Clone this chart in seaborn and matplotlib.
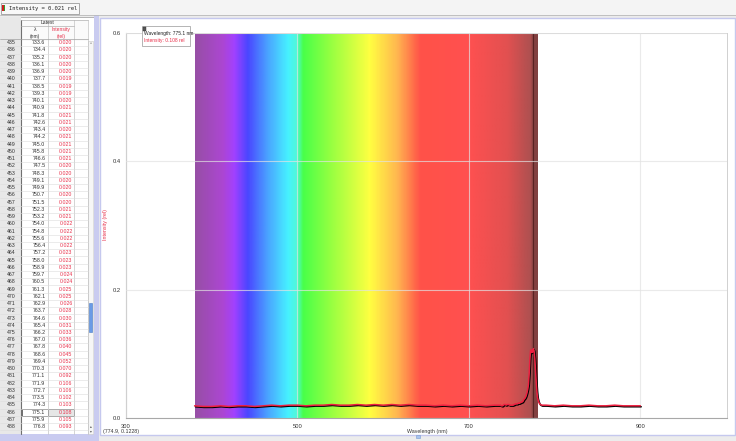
import matplotlib
matplotlib.use("Agg")
import matplotlib.pyplot as plt
import matplotlib.patheffects as pe
from matplotlib.colors import LinearSegmentedColormap, Normalize
from matplotlib.patches import Rectangle
import numpy as np
import pandas as pd
import seaborn as sns

# ---- data ----
# table rows (index, wavelength nm, intensity rel)
row_idx = list(range(435, 489))
tbl_wl = [733.6, 734.4, 735.2, 736.1, 736.9, 737.7, 738.5, 739.3, 740.1, 740.9,
          741.8, 742.6, 743.4, 744.2, 745.0, 745.8, 746.6, 747.5, 748.3, 749.1,
          749.9, 750.7, 751.5, 752.3, 753.2, 754.0, 754.8, 755.6, 756.4, 757.2,
          758.0, 758.9, 759.7, 760.5, 761.3, 762.1, 762.9, 763.7, 764.6, 765.4,
          766.2, 767.0, 767.8, 768.6, 769.4, 770.3, 771.1, 771.9, 772.7, 773.5,
          774.3, 775.1, 775.9, 776.8]
tbl_int = [0.020, 0.020, 0.020, 0.020, 0.020, 0.019, 0.019, 0.019, 0.020, 0.021,
           0.021, 0.021, 0.020, 0.021, 0.021, 0.021, 0.021, 0.020, 0.020, 0.020,
           0.020, 0.020, 0.020, 0.021, 0.021, 0.022, 0.022, 0.022, 0.022, 0.023,
           0.023, 0.023, 0.024, 0.024, 0.025, 0.025, 0.026, 0.028, 0.030, 0.031,
           0.033, 0.036, 0.040, 0.045, 0.052, 0.070, 0.092, 0.106, 0.106, 0.102,
           0.103, 0.108, 0.105, 0.093]
selected_row = 486

# rest of the spectrum (estimated from the graph)
base_wl = [380, 390, 400, 410, 420, 430, 440, 450, 460, 470, 480, 490, 500, 510,
           520, 530, 540, 550, 560, 570, 580, 590, 600, 610, 620, 630, 640, 650,
           660, 670, 680, 690, 700, 710, 720, 730]
base_int = [0.019, 0.018, 0.018, 0.019, 0.018, 0.019, 0.019, 0.018, 0.019, 0.020,
            0.019, 0.020, 0.020, 0.019, 0.020, 0.020, 0.021, 0.020, 0.020, 0.021,
            0.020, 0.021, 0.020, 0.021, 0.020, 0.021, 0.020, 0.020, 0.019, 0.020,
            0.019, 0.020, 0.019, 0.020, 0.019, 0.020]
tail_wl = [777.6, 778.4, 779.2, 780.0, 780.9, 781.7, 782.5, 783.3, 785, 790, 800,
           810, 820, 830, 840, 850, 860, 870, 880, 890, 900]
tail_int = [0.076, 0.057, 0.042, 0.032, 0.027, 0.024, 0.022, 0.021, 0.020, 0.020,
            0.019, 0.020, 0.019, 0.019, 0.020, 0.019, 0.019, 0.020, 0.019, 0.019, 0.019]

spec = pd.DataFrame({"wl": base_wl + tbl_wl + tail_wl,
                     "intensity": base_int + tbl_int + tail_int})

x_major = [300, 500, 700, 900]
x_minor = [400, 600, 800]
y_major = [0.0, 0.2, 0.4, 0.6]
y_minor = [0.1, 0.3, 0.5]

# visible-light band behind the graph
band_stops = [(380, '#8e3f9e'), (412, '#a535cf'), (425, '#9a30ff'), (441, '#3a35ff'),
              (464, '#3a9aff'), (488, '#35f0ff'), (498, '#40f8d8'), (506, '#38ff38'),
              (538, '#8cff30'), (584, '#ffff30'), (616, '#ffb040'), (643, '#ff4238'),
              (700, '#ff4040'), (745, '#e04040'), (773, '#a54040'), (775, '#7a3030'),
              (780, '#763030')]

sns.set_theme(style="white")
plt.rcParams['font.family'] = ['Liberation Sans', 'DejaVu Sans']

W, H = 736, 441
fig = plt.figure(figsize=(W / 100, H / 100), dpi=100, facecolor='#ececec')

# background layer in pixel coordinates
bg = fig.add_axes([0, 0, 1, 1], zorder=0)
bg.set_xlim(0, W)
bg.set_ylim(H, 0)
bg.axis('off')

# top bar
bg.add_patch(Rectangle((0, 0), W, 15, facecolor='#f4f4f4', edgecolor='none'))
bg.plot([0, W], [14.5, 14.5], color='#b8b8b8', lw=0.6)
bg.add_patch(Rectangle((0.5, 3), 78, 11, facecolor='#f8f8f8', edgecolor='#9a9a9a', lw=0.6))
bg.add_patch(Rectangle((2, 5), 1.5, 6, facecolor='#d02020', edgecolor='none'))
bg.add_patch(Rectangle((3.5, 5), 1.5, 6, facecolor='#30a030', edgecolor='none'))
bg.text(9, 8.7, 'Intensity = 0.021 rel', fontsize=4.0, family='DejaVu Sans Mono',
        color='#222222', va='center', ha='left')

# left table panel
bg.add_patch(Rectangle((0, 17), 94, 417, facecolor='white', edgecolor='#a8a8a8', lw=0.6))
bg.add_patch(Rectangle((94, 15), 5, H - 15, facecolor='#c9cbf0', edgecolor='none'))
bg.add_patch(Rectangle((0, 434), 99, H - 434, facecolor='#c9cbf0', edgecolor='none'))

# chart panel
bg.add_patch(Rectangle((99.5, 17.5), 635, 417.5, facecolor='white', edgecolor='#c5c8ee', lw=1.0))

# table
row_h = 7.245
y0 = 42.7
n = len(row_idx)
bg.add_patch(Rectangle((0, 17), 21, 417, facecolor='#e8e8e8', edgecolor='none'))
bg.add_patch(Rectangle((21, 20), 67, 20.5, facecolor='#fafafa', edgecolor='none'))
for xv, c, lw in [(21, '#707070', 0.8), (48, '#c4c4c4', 0.5), (74, '#c4c4c4', 0.5),
                  (88, '#c4c4c4', 0.5)]:
    bg.plot([xv, xv], [20, 434], color=c, lw=lw)
bg.plot([21, 88], [20, 20], color='#b0b0b0', lw=0.5)
bg.plot([21, 74], [25.5, 25.5], color='#b0b0b0', lw=0.5)
bg.plot([0, 88], [y0 - row_h / 2, y0 - row_h / 2], color='#a0a0a0', lw=0.5)
for i in range(n):
    yb = y0 + i * row_h + row_h / 2
    bg.plot([0, 88], [yb, yb], color='#dcdcdc', lw=0.4)

hs = dict(fontsize=3.6, ha='center', va='center')
bg.text(47.5, 22.6, 'Latest', color='#333333', **hs)
bg.text(35, 29.6, 'λ', color='#333333', **hs)
bg.text(35, 36.4, '(nm)', color='#333333', **hs)
bg.text(61, 29.6, 'Intensity', color='#e8304a', **hs)
bg.text(61, 36.4, '(rel)', color='#e8304a', **hs)

for i, (r, lv, iv) in enumerate(zip(row_idx, tbl_wl, tbl_int)):
    yc = y0 + i * row_h
    if r == selected_row:
        bg.add_patch(Rectangle((48, yc - row_h / 2), 26, row_h, facecolor='#e6e6e6',
                               edgecolor='#555555', lw=0.6))
        bg.add_patch(Rectangle((21.5, yc - row_h / 2), 26.5, row_h, facecolor='none',
                               edgecolor='#555555', lw=0.6))
    bg.text(11, yc, str(r), fontsize=3.8, color='#333333', ha='center', va='center')
    bg.text(45.5, yc, f'{lv:.1f}', fontsize=3.8, color='#333333', ha='right', va='center')
    bg.text(72.5, yc, f'{iv:.3f}', fontsize=3.8, color='#e8304a', ha='right', va='center')

# scrollbar
bg.add_patch(Rectangle((88.3, 40.5), 4.7, 393, facecolor='#f6f6f6', edgecolor='#c8c8c8', lw=0.4))
bg.text(90.7, 44.5, '^', fontsize=3.2, color='#555555', ha='center', va='center')
bg.add_patch(Rectangle((89.3, 303), 3, 29, facecolor='#6a9be6', edgecolor='#4a7bc6', lw=0.4))
bg.text(90.7, 426, '▴', fontsize=2.6, color='#555555', ha='center', va='center')
bg.text(90.7, 431, '▾', fontsize=2.6, color='#555555', ha='center', va='center')

# ---- the graph ----
ax = fig.add_axes([126 / W, 1 - 418 / H, (727 - 126) / W, (418 - 33) / H], zorder=2)
ax.set_facecolor('white')
ax.set_xlim(300, 1001)
ax.set_ylim(0, 0.6)

cmap = LinearSegmentedColormap.from_list(
    'visible', [((w - 380) / 400, c) for w, c in band_stops])
grad = np.linspace(380, 780, 800)[None, :]
ax.imshow(grad, cmap=cmap, norm=Normalize(380, 780), extent=[380, 780, 0, 0.6],
          aspect='auto', alpha=0.92, zorder=0, interpolation='bilinear')
ax.axvline(774.9, color='#4a1a1a', lw=0.8, alpha=0.75, zorder=1)

ax.set_xticks(x_major)
ax.set_xticks(x_minor, minor=True)
ax.set_yticks(y_major)
ax.set_yticks(y_minor, minor=True)
ax.set_xticklabels([str(v) for v in x_major])
ax.set_yticklabels([f'{v:.1f}' for v in y_major])
ax.tick_params(which='both', direction='out', length=2.5, width=0.5, color='#888888',
               labelsize=4.2, labelcolor='#333333', pad=1.5)
ax.tick_params(which='minor', length=2)
ax.grid(True, which='major', color='#e2e2e2', lw=0.8, alpha=0.7)
ax.set_axisbelow(False)
for s in ['top', 'right']:
    ax.spines[s].set_color('#d0d0d0')
    ax.spines[s].set_linewidth(0.7)
for s in ['left', 'bottom']:
    ax.spines[s].set_color('#a8a8a8')
    ax.spines[s].set_linewidth(0.8)

sns.lineplot(data=spec, x='wl', y='intensity', ax=ax, color='#ee2040', lw=1.1,
             zorder=5, sort=False,
             path_effects=[pe.SimpleLineShadow(offset=(0.6, -0.7), shadow_color='black',
                                               alpha=1.0, rho=1.0), pe.Normal()])
ax.set_xlabel('')
ax.set_ylabel('')

# ---- foreground annotations in pixel coordinates ----
fg = fig.add_axes([0, 0, 1, 1], zorder=5)
fg.set_xlim(0, W)
fg.set_ylim(H, 0)
fg.axis('off')
fg.patch.set_alpha(0)

fg.add_patch(Rectangle((141.5, 26), 48.5, 20, facecolor='white', edgecolor='#a8a8a8', lw=0.6))
fg.add_patch(Rectangle((143, 27.3), 3.3, 3.3, facecolor='#555555', edgecolor='#333333', lw=0.3))
fg.text(143.5, 34, 'Wavelength: 775.1 nm', fontsize=3.5, color='#222222', va='center')
fg.text(143.5, 40.3, 'Intensity: 0.108 rel', fontsize=3.5, color='#e8304a', va='center')

fg.text(105, 225, 'Intensity (rel)', fontsize=3.8, color='#e8304a', rotation=90,
        ha='center', va='center')
fg.text(427, 432, 'Wavelength (nm)', fontsize=3.8, color='#333333', ha='center', va='center')
fg.text(103, 432, '(774.9, 0.1228)', fontsize=3.8, color='#333333', ha='left', va='center')
fg.add_patch(Rectangle((416, 434.5), 4, 3, facecolor='#a8c4ee', edgecolor='#7a9ad0', lw=0.4))

fig.savefig('out.png', dpi=100, facecolor=fig.get_facecolor())
